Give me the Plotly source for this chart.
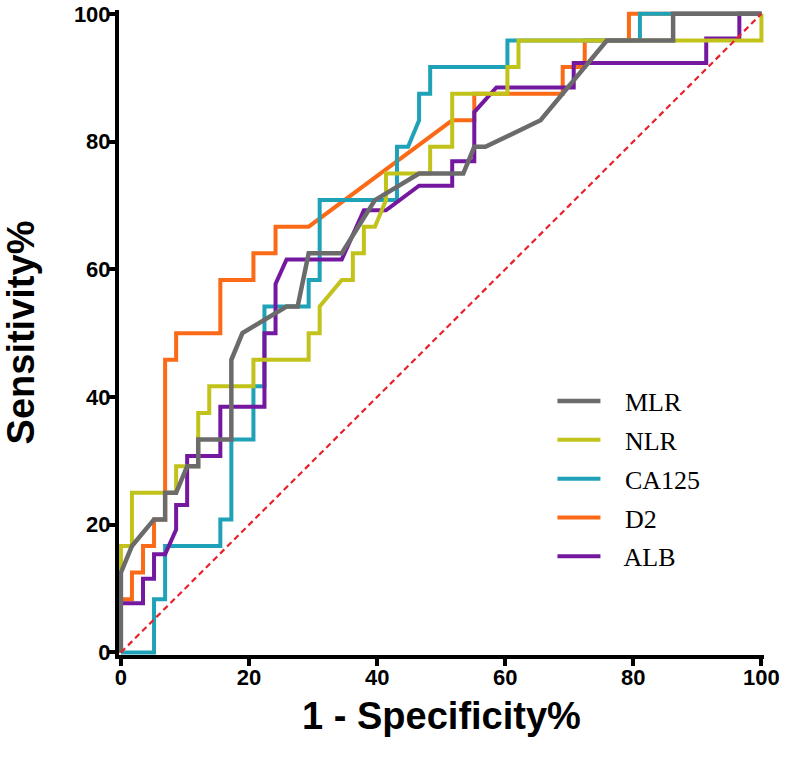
import plotly.graph_objects as go

# ---- data (1 - specificity %, sensitivity %) ----
mlr_fpr = [0, 0, 1.72, 5.17, 6.90, 6.90, 8.62, 10.34, 12.07, 12.07, 17.24, 17.24, 18.97, 25.86, 27.59, 29.31, 34.48, 39.66, 46.55, 53.45, 55.17, 56.90, 65.52, 75.86, 86.21, 86.21, 100]
mlr_tpr = [0, 12.5, 16.67, 20.83, 20.83, 25, 25, 29.17, 29.17, 33.33, 33.33, 45.83, 50, 54.17, 54.17, 62.5, 62.5, 70.83, 75, 75, 79.17, 79.17, 83.33, 95.83, 95.83, 100, 100]

nlr_fpr = [0, 0, 1.72, 1.72, 8.62, 8.62, 12.07, 12.07, 13.79, 13.79, 20.69, 20.69, 29.31, 29.31, 31.03, 31.03, 34.48, 36.21, 36.21, 37.93, 37.93, 39.66, 41.38, 41.38, 48.28, 48.28, 51.72, 51.72, 60.34, 60.34, 62.07, 62.07, 100, 100]
nlr_tpr = [0, 16.67, 16.67, 25, 25, 29.17, 29.17, 37.5, 37.5, 41.67, 41.67, 45.83, 45.83, 50, 50, 54.17, 58.33, 58.33, 62.5, 62.5, 66.67, 66.67, 70.83, 75, 75, 79.17, 79.17, 87.5, 87.5, 91.67, 91.67, 95.83, 95.83, 100]

ca125_fpr = [0, 5.17, 5.17, 6.90, 6.90, 15.52, 15.52, 17.24, 17.24, 20.69, 20.69, 22.41, 22.41, 29.31, 29.31, 31.03, 31.03, 43.10, 43.10, 44.83, 46.55, 46.55, 48.28, 48.28, 60.34, 60.34, 81.03, 81.03, 100]
ca125_tpr = [0, 0, 8.33, 8.33, 16.67, 16.67, 20.83, 20.83, 33.33, 33.33, 41.67, 41.67, 54.17, 54.17, 58.33, 58.33, 70.83, 70.83, 79.17, 79.17, 83.33, 87.5, 87.5, 91.67, 91.67, 95.83, 95.83, 100, 100]

d2_fpr = [0, 0, 1.72, 1.72, 3.45, 3.45, 5.17, 5.17, 6.90, 6.90, 8.62, 8.62, 15.52, 15.52, 20.69, 20.69, 24.14, 24.14, 29.31, 51.72, 55.17, 55.17, 68.97, 68.97, 72.41, 72.41, 79.31, 79.31, 100]
d2_tpr = [0, 8.33, 8.33, 12.5, 12.5, 16.67, 16.67, 20.83, 20.83, 45.83, 45.83, 50, 50, 58.33, 58.33, 62.5, 62.5, 66.67, 66.67, 83.33, 83.33, 87.5, 87.5, 91.67, 91.67, 95.83, 95.83, 100, 100]

alb_fpr = [0, 0, 3.45, 3.45, 5.17, 5.17, 6.90, 8.62, 8.62, 10.34, 10.34, 15.52, 15.52, 22.41, 22.41, 24.14, 24.14, 25.86, 34.48, 37.93, 41.38, 46.55, 51.72, 51.72, 55.17, 55.17, 58.62, 70.69, 70.69, 91.38, 91.38, 96.55, 96.55, 100]
alb_tpr = [0, 7.69, 7.69, 11.54, 11.54, 15.38, 15.38, 19.23, 23.08, 23.08, 30.77, 30.77, 38.46, 38.46, 50, 50, 57.69, 61.54, 61.54, 69.23, 69.23, 73.08, 73.08, 76.92, 76.92, 84.62, 88.46, 88.46, 92.31, 92.31, 96.15, 96.15, 100, 100]

ref_line = [0, 100]
tick_vals = [0, 20, 40, 60, 80, 100]

# draw order (bottom -> top), legend order via legendrank
series = [
    ("D2", d2_fpr, d2_tpr, "#fb6a16", 4, 4),
    ("CA125", ca125_fpr, ca125_tpr, "#1fa2b8", 4, 3),
    ("ALB", alb_fpr, alb_tpr, "#7418a0", 4, 5),
    ("NLR", nlr_fpr, nlr_tpr, "#c1c31a", 4, 2),
    ("MLR", mlr_fpr, mlr_tpr, "#6b6b6b", 4.5, 1),
]

fig = go.Figure()
for name, xs, ys, col, w, rank in series:
    fig.add_trace(go.Scatter(
        x=xs, y=ys, mode="lines", name="   " + name,
        line=dict(color=col, width=w),
        legendrank=rank, legendgroup=name,
    ))

fig.add_trace(go.Scatter(
    x=ref_line, y=ref_line, mode="lines", showlegend=False,
    line=dict(color="#e8212b", width=2.2, dash="6px,4px"),
))

axis_common = dict(
    showline=True, linewidth=4, linecolor="black",
    ticks="outside", ticklen=7, tickwidth=4, tickcolor="black",
    showgrid=False, zeroline=False,
    tickvals=tick_vals, ticklabeloverflow="allow",
    tickfont=dict(family="Liberation Sans", size=22, color="black", weight="bold"),
)

fig.update_layout(
    width=787, height=764,
    paper_bgcolor="white", plot_bgcolor="white",
    margin=dict(l=118.6, r=23, t=9.5, b=109.4, autoexpand=False),
    xaxis=dict(range=[-0.3, 100.4], ticklabelstandoff=-7,
               title=dict(text="1 - Specificity%", standoff=14,
                          font=dict(family="Liberation Sans", size=38, color="black", weight="bold")),
               **axis_common),
    yaxis=dict(range=[-0.4, 100.6], ticklabelstandoff=-7,
               title=dict(text="Sensitivity%", standoff=36,
                          font=dict(family="Liberation Sans", size=38, color="black", weight="bold")),
               **axis_common),
    legend=dict(
        x=0.672, y=0.43, xanchor="left", yanchor="top",
        font=dict(family="Liberation Serif", size=26, color="black"),
        itemwidth=43, tracegroupgap=2, bgcolor="rgba(0,0,0,0)",
    ),
    showlegend=True,
)

fig.write_html("out.html", config={"displayModeBar": False},
               post_script="document.body.style.margin='0';")
